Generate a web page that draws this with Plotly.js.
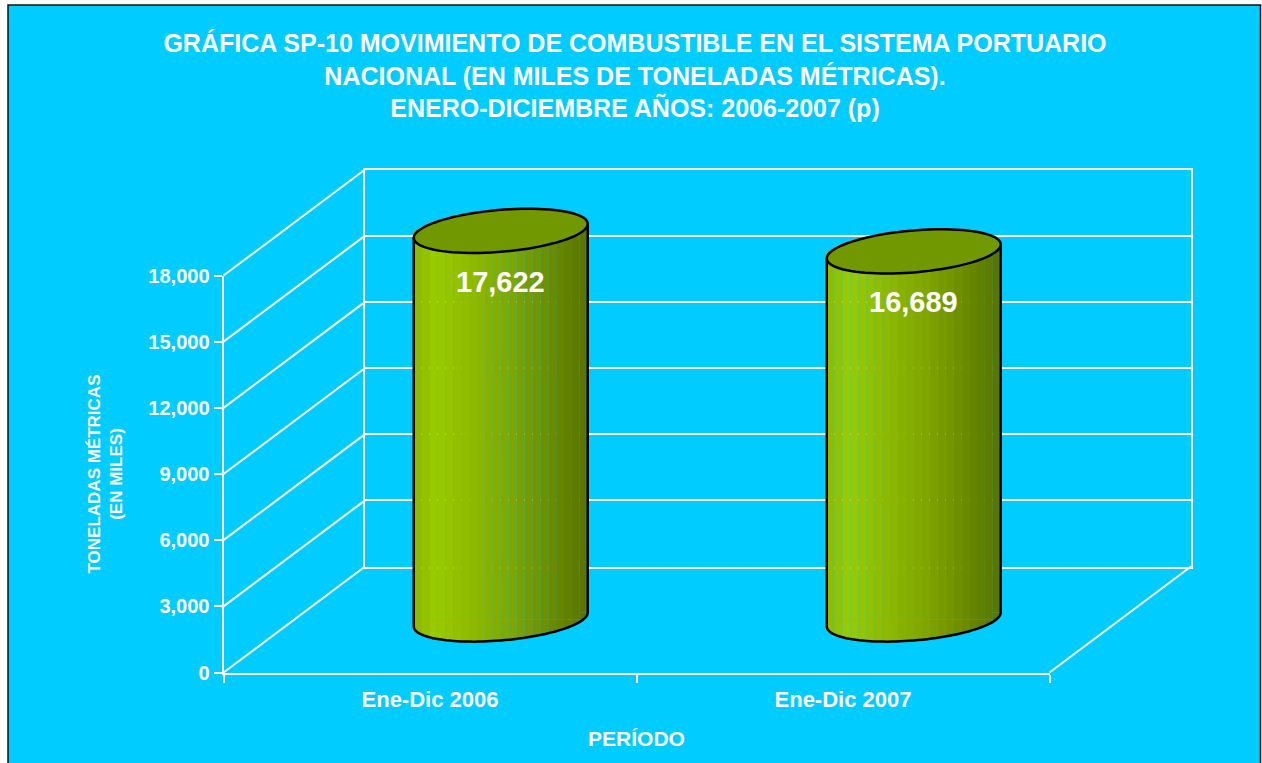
<!DOCTYPE html>
<html><head><meta charset="utf-8">
<script src="https://cdn.plot.ly/plotly-3.0.1.min.js"></script>
<style>html,body{margin:0;padding:0;background:#fff}#chart{width:1262px;height:763px}</style>
</head><body><div id="chart"></div>
<script>
// ---------- data ----------
const periods = ['Ene-Dic 2006', 'Ene-Dic 2007'];
const tonnage = [17622, 16689];
const yTickVals = [0, 3000, 6000, 9000, 12000, 15000, 18000];
const yTickText = ['0', '3,000', '6,000', '9,000', '12,000', '15,000', '18,000'];
const titleLines = ['GRÁFICA SP-10 MOVIMIENTO DE COMBUSTIBLE EN EL SISTEMA PORTUARIO',
                    'NACIONAL (EN MILES DE TONELADAS MÉTRICAS).',
                    'ENERO-DICIEMBRE AÑOS: 2006-2007 (p)'];
const xTitle = 'PERÍODO';
const yTitleLines = ['TONELADAS MÉTRICAS', '(EN MILES)'];

// ---------- geometry / style ----------
const W = 1262, H = 763;
const BG = '#00CCFF', WHITE = '#FFFFFF';
const FONT = 'Liberation Sans, Arial, sans-serif';
const FRONT = {x0: 223.5, x1: 1049.5, y0: 672.5, y1: 275.5};
const DEPTH = {dx: 141.5, dy: -106};
const YMAX = 18000;
const kY = (FRONT.y0 - FRONT.y1) / YMAX;           // px per data unit
const catPx = (FRONT.x1 - FRONT.x0) / periods.length;
const fx = p => p / W, fy = p => 1 - p / H;

// cylinder geometry (pixels -> data units)
const A = 87 / catPx;       // half width (category units)
const B = 21 / kY;          // ellipse half height
const S = 7 / kY;           // perspective tilt (right end higher)
const NSTRIP = 22;
const Y3MIN = -2000, Y3MAX = 20000;
const MID = {dx: DEPTH.dx / 2, dy: DEPTH.dy / 2};
const bar0px = FRONT.y0 + MID.dy;   // pixel y of value 0 on the bar plane

function lerp(a, b, t) { return a + (b - a) * t; }
function hex(c) { return [parseInt(c.slice(1,3),16), parseInt(c.slice(3,5),16), parseInt(c.slice(5,7),16)]; }
const stops = [[0, '#8CBA00'], [0.13, '#9ACC00'], [0.55, '#80A700'], [1, '#577300']];
function grad(t) {
  for (let i = 0; i < stops.length - 1; i++) {
    const [t0, c0] = stops[i], [t1, c1] = stops[i + 1];
    if (t <= t1) {
      const f = (t - t0) / (t1 - t0), a = hex(c0), b = hex(c1);
      return 'rgb(' + a.map((v, k) => Math.round(lerp(v, b[k], f))).join(',') + ')';
    }
  }
  return stops[stops.length - 1][1];
}
const lowerArc = u => -B * Math.sqrt(Math.max(0, 1 - u * u)) + S * u;

const idx = periods.map((p, i) => i);
const traces = [];
// invisible trace so the front category axis carries the period labels
traces.push({type: 'scatter', x: periods, y: tonnage, mode: 'markers', marker: {opacity: 0, size: 1},
             hoverinfo: 'skip', showlegend: false, xaxis: 'x', yaxis: 'y'});
// back wall subplot (gridlines only)
traces.push({type: 'scatter', x: [], y: [], xaxis: 'x2', yaxis: 'y2', showlegend: false, hoverinfo: 'skip'});

const shapes = [];
shapes.push({type: 'rect', xref: 'paper', yref: 'paper', x0: fx(8), x1: fx(1260.5), y0: -0.02, y1: fy(5),
             fillcolor: BG, line: {color: '#111', width: 1.5}, layer: 'below'});
// left wall diagonals & floor right edge
yTickVals.forEach(v => {
  const yf = FRONT.y0 - v * kY;
  shapes.push({type: 'line', xref: 'paper', yref: 'paper', x0: fx(FRONT.x0), y0: fy(yf),
               x1: fx(FRONT.x0 + DEPTH.dx), y1: fy(yf + DEPTH.dy), line: {color: WHITE, width: 2}, layer: 'below'});
});
shapes.push({type: 'line', xref: 'paper', yref: 'paper', x0: fx(FRONT.x1), y0: fy(FRONT.y0),
             x1: fx(FRONT.x1 + DEPTH.dx), y1: fy(FRONT.y0 + DEPTH.dy), line: {color: WHITE, width: 2}, layer: 'below'});

// cylinder body strips (bars)
const sw = 2 * A / NSTRIP;
const capsBottom = [], capsTop = [];
for (let j = 0; j < NSTRIP; j++) {
  const u1 = -1 + j * sw / A, u2 = u1 + sw / A;
  let base = 0;
  for (let s = 0; s <= 8; s++) base = Math.max(base, lowerArc(lerp(u1, u2, s / 8)));
  const col = grad((j + 0.5) / NSTRIP);
  traces.push({type: 'bar', x: idx, y: tonnage, base: base, offset: -A + j * sw, width: sw,
               marker: {color: col, line: {width: 0}}, xaxis: 'x3', yaxis: 'y3',
               hoverinfo: 'skip', showlegend: false});
  tonnage.forEach((v, i) => {
    const xl = i - A + j * sw, xr = xl + sw;
    let pb = `M${xl},${base} L${xr},${base}`;
    let pt = `M${xl},${v + base} L${xr},${v + base}`;
    for (let s = 8; s >= 0; s--) {
      const u = lerp(u1, u2, s / 8), x = i + u * A;
      pb += ` L${x},${lowerArc(u)}`;
      pt += ` L${x},${v + lowerArc(u)}`;
    }
    capsBottom.push({type: 'path', xref: 'x3', yref: 'y3', path: pb + ' Z', fillcolor: col, line: {width: 0}, layer: 'above'});
    capsTop.push({type: 'path', xref: 'x3', yref: 'y3', path: pt + ' Z', fillcolor: col, line: {width: 0}, layer: 'above'});
  });
}
shapes.push(...capsBottom, ...capsTop);

const annotations = [];
tonnage.forEach((v, i) => {
  // sides + bottom arc outline
  let p = `M${i - A},${v - S} L${i - A},${-S}`;
  for (let s = 0; s <= 60; s++) {
    const t = Math.PI + Math.PI * s / 60;
    p += ` L${i + A * Math.cos(t)},${B * Math.sin(t) + S * Math.cos(t)}`;
  }
  p += ` L${i + A},${v + S}`;
  shapes.push({type: 'path', xref: 'x3', yref: 'y3', path: p, fillcolor: 'rgba(0,0,0,0)',
               line: {color: '#000', width: 2.5}, layer: 'above'});
  // top ellipse
  let e = '';
  for (let s = 0; s <= 90; s++) {
    const t = 2 * Math.PI * s / 90;
    e += (s ? ' L' : 'M') + `${i + A * Math.cos(t)},${v + B * Math.sin(t) + S * Math.cos(t)}`;
  }
  shapes.push({type: 'path', xref: 'x3', yref: 'y3', path: e + ' Z', fillcolor: '#729800',
               line: {color: '#000', width: 2.5}, layer: 'above'});
  annotations.push({xref: 'x3', yref: 'y3', x: i, y: v, yshift: -51, showarrow: false,
                    text: v.toLocaleString('en-US'),
                    font: {family: FONT, size: 29, color: WHITE, weight: 'bold'}});
});

const layout = {
  width: W, height: H,
  margin: {l: 0, r: 0, t: 0, b: 0},
  paper_bgcolor: '#FFFFFF', plot_bgcolor: 'rgba(0,0,0,0)',
  showlegend: false, barmode: 'overlay',
  title: {text: titleLines.join('<br>'), x: fx(635), xanchor: 'center', y: fy(52), yanchor: 'top',
          font: {family: FONT, size: 25, color: WHITE, weight: 'bold'}},
  xaxis: {domain: [fx(FRONT.x0), fx(FRONT.x1)], type: 'category', categoryorder: 'array', categoryarray: periods,
          range: [-0.5, periods.length - 0.5], tickson: 'boundaries', ticks: 'outside', ticklen: 8, tickwidth: 2,
          tickcolor: WHITE, showline: true, linecolor: WHITE, linewidth: 2, showgrid: false, zeroline: false,
          automargin: false, anchor: 'y', fixedrange: true, ticklabelstandoff: 6,
          tickfont: {family: FONT, size: 22, color: WHITE, weight: 'bold'},
          title: {text: xTitle, standoff: 20, font: {family: FONT, size: 21, color: WHITE, weight: 'bold'}}},
  yaxis: {domain: [fy(FRONT.y0), fy(FRONT.y1)], range: [0, YMAX], tickmode: 'array', tickvals: yTickVals,
          ticktext: yTickText, ticks: 'outside', ticklen: 8, tickwidth: 2, tickcolor: WHITE,
          showline: true, linecolor: WHITE, linewidth: 2, showgrid: false, zeroline: false,
          automargin: false, anchor: 'x', fixedrange: true,
          tickfont: {family: FONT, size: 20, color: WHITE, weight: 'bold'},
          title: {text: yTitleLines.join('<br>'), standoff: 21,
                  font: {family: FONT, size: 17, color: WHITE, weight: 'bold'}}},
  xaxis2: {domain: [fx(FRONT.x0 + DEPTH.dx), fx(FRONT.x1 + DEPTH.dx)], range: [0, 1], anchor: 'y2',
           showline: true, mirror: true, linecolor: WHITE, linewidth: 2, showgrid: false, zeroline: false,
           showticklabels: false, ticks: '', fixedrange: true},
  yaxis2: {domain: [fy(FRONT.y0 + DEPTH.dy), fy(FRONT.y1 + DEPTH.dy)], range: [0, YMAX], anchor: 'x2',
           tickmode: 'array', tickvals: yTickVals, showgrid: true, gridcolor: WHITE, gridwidth: 2,
           showline: true, mirror: true, linecolor: WHITE, linewidth: 2, zeroline: false,
           showticklabels: false, ticks: '', fixedrange: true},
  xaxis3: {domain: [fx(FRONT.x0 + MID.dx), fx(FRONT.x1 + MID.dx)], range: [-0.5, periods.length - 0.5],
           anchor: 'y3', visible: false, fixedrange: true},
  yaxis3: {domain: [fy(bar0px - Y3MIN * kY), fy(bar0px - Y3MAX * kY)], range: [Y3MIN, Y3MAX],
           anchor: 'x3', visible: false, fixedrange: true},
  shapes: shapes,
  annotations: annotations
};

Plotly.newPlot('chart', traces, layout, {displayModeBar: false, staticPlot: true});
</script>
</body></html>
